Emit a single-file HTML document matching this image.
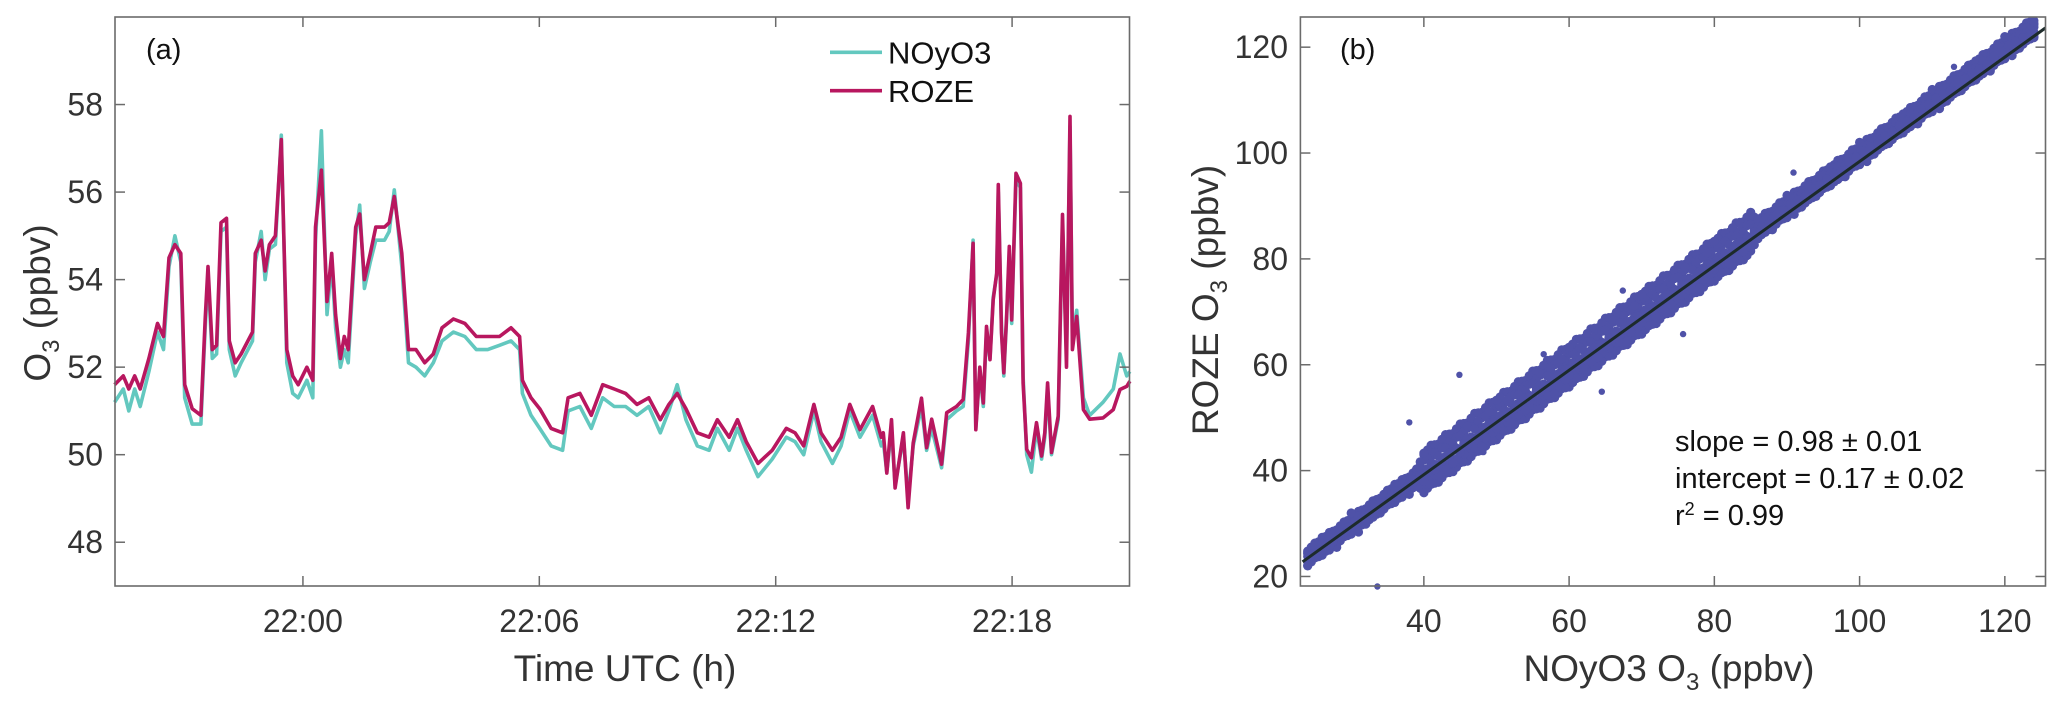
<!DOCTYPE html>
<html><head><meta charset="utf-8"><style>
html,body{margin:0;padding:0;background:#fff;}
svg{display:block;font-family:"Liberation Sans",Arial,sans-serif;}
</style></head><body>
<svg id="fig" width="2067" height="712" viewBox="0 0 2067 712" xmlns="http://www.w3.org/2000/svg">
<g id="pa"></g>
<g id="pb"></g>
</svg>
<script>
// ---------- Panel (a) data: minutes relative to 22:00 ----------
const minutesRoze = [-4.78,-4.56,-4.42,-4.27,-4.13,-3.91,-3.69,-3.54,-3.40,-3.25,-3.10,-3.00,-2.81,-2.59,-2.48,-2.41,-2.30,-2.19,-2.08,-1.94,-1.87,-1.72,-1.57,-1.28,-1.21,-1.06,-0.96,-0.85,-0.70,-0.55,-0.41,-0.26,-0.12,0.10,0.25,0.32,0.47,0.61,0.73,0.83,0.95,1.05,1.15,1.34,1.44,1.56,1.71,1.85,2.07,2.19,2.32,2.51,2.68,2.87,3.09,3.31,3.53,3.82,4.11,4.40,4.69,4.99,5.28,5.50,5.57,5.79,6.01,6.30,6.59,6.73,7.03,7.32,7.61,7.90,8.19,8.48,8.78,9.07,9.29,9.50,9.72,10.01,10.31,10.52,10.82,11.03,11.25,11.55,11.91,12.27,12.49,12.71,12.97,13.15,13.44,13.66,13.88,14.14,14.46,14.68,14.73,14.82,14.94,15.03,15.24,15.36,15.49,15.70,15.83,15.96,16.21,16.34,16.59,16.76,16.89,17.01,17.08,17.18,17.27,17.35,17.44,17.52,17.61,17.65,17.73,17.79,17.86,17.93,17.99,18.10,18.21,18.28,18.37,18.49,18.62,18.75,18.83,18.90,19.00,19.17,19.28,19.38,19.47,19.53,19.64,19.81,19.97,20.31,20.57,20.74,20.91,20.99];
const rozeO3 = [51.6,51.8,51.5,51.8,51.5,52.2,53.0,52.7,54.5,54.8,54.6,51.6,51.05,50.9,53.1,54.3,52.4,52.5,55.3,55.4,52.6,52.1,52.3,52.8,54.6,54.9,54.2,54.8,55.0,57.2,52.4,51.8,51.6,52.0,51.7,55.2,56.5,53.5,54.6,53.2,52.2,52.7,52.4,55.2,55.5,54.0,54.6,55.2,55.2,55.3,55.9,54.6,52.4,52.4,52.1,52.3,52.9,53.1,53.0,52.7,52.7,52.7,52.9,52.7,51.7,51.3,51.05,50.6,50.5,51.3,51.4,50.9,51.6,51.5,51.4,51.15,51.3,50.8,51.15,51.4,51.05,50.5,50.4,50.8,50.4,50.8,50.3,49.8,50.1,50.6,50.5,50.2,51.15,50.5,50.1,50.4,51.15,50.57,51.1,50.4,50.5,49.58,50.8,49.24,50.5,48.79,50.27,51.29,50.16,50.81,49.78,50.96,51.1,51.26,52.78,54.83,50.57,52.0,51.18,52.93,52.17,53.54,54.15,56.17,52.78,51.87,53.16,54.76,53.08,56.43,56.2,51.64,50.12,49.93,50.73,49.97,50.5,51.64,50.05,50.88,55.49,52.0,57.73,52.4,53.16,51.03,50.81,50.84,51.03,51.49,51.56,51.68];
const noyO3 = [51.2,51.5,51.0,51.5,51.1,51.9,52.8,52.4,54.3,55.0,54.4,51.3,50.7,50.7,52.9,54.1,52.2,52.3,55.1,55.2,52.4,51.8,52.1,52.6,54.4,55.1,54.0,54.7,54.8,57.3,52.1,51.4,51.3,51.7,51.3,54.9,57.4,53.2,54.4,52.9,52.0,52.4,52.1,55.0,55.7,53.8,54.4,54.9,54.9,55.1,56.05,54.3,52.1,52.0,51.8,52.1,52.6,52.8,52.7,52.4,52.4,52.5,52.6,52.4,51.4,50.9,50.6,50.2,50.1,51.0,51.1,50.6,51.3,51.1,51.1,50.9,51.1,50.5,51.0,51.6,50.8,50.2,50.1,50.6,50.1,50.6,50.1,49.5,49.9,50.4,50.3,50.0,51.0,50.3,49.8,50.2,51.0,50.4,50.9,50.2,50.3,49.6,50.6,49.3,50.4,49.0,50.2,51.1,50.1,50.6,49.7,50.8,51.0,51.1,52.6,54.9,50.6,51.9,51.1,52.8,52.2,53.6,54.1,56.0,52.9,51.8,53.1,54.6,53.0,56.3,56.1,51.8,50.0,49.6,50.6,49.9,50.4,51.5,50.0,50.8,55.3,52.3,57.5,52.7,53.3,51.3,50.9,51.2,51.5,52.3,51.8,51.9];
const aYTicks = [48,50,52,54,56,58];
const aXTicks = [0,6,12,18];
const aXTickLabels = ["22:00","22:06","22:12","22:18"];

// ---------- Panel (b) data ----------
const scatterX = [24,25,26,27,28,29,30,31,32,33,34,35,36,37,38,39,40,41,42,43,44,45,46,47,48,49,50,51,52,53,54,55,56,57,58,59,60,61,62,63,64,65,66,67,68,69,70,71,72,73,74,75,76,77,78,79,80,81,82,83,84,85,86,87,88,89,90,91,92,93,94,95,96,97,98,99,100,101,102,103,104,105,106,107,108,109,110,111,112,113,114,115,116,117,118,119,120,121,122,123,124];
const rozeA = [24.5,23.8,27.4,25.0,27.9,28.3,32.0,28.4,32.3,31.2,34.5,33.8,37.4,35.0,37.9,38.3,43.3,37.4,42.7,40.6,45.0,43.5,48.4,44.3,48.1,48.2,53.3,47.4,52.7,50.6,55.0,53.5,58.4,54.3,58.1,58.2,63.3,57.4,62.7,60.6,65.0,63.5,68.4,64.3,68.1,68.2,73.3,67.4,72.7,70.6,75.0,73.5,78.4,74.3,78.1,78.2,83.3,77.4,82.7,80.6,85.0,83.5,87.4,85.0,87.9,88.3,92.0,88.4,92.3,91.2,94.5,93.8,97.4,95.0,97.9,98.3,102.0,98.4,102.3,101.2,104.5,103.8,107.4,105.0,107.9,108.3,112.0,108.4,112.3,111.2,114.5,113.8,117.4,115.0,117.9,118.3,122.0,118.4,122.3,121.2,124.5];
const rozeB = [22.1,25.8,25.0,27.4,25.5,30.2,28.5,31.0,29.9,33.7,32.1,35.8,35.0,37.4,35.5,40.2,38.0,41.3,39.1,44.3,41.4,46.5,44.8,47.9,44.5,51.1,48.0,51.3,49.1,54.3,51.4,56.5,54.8,57.9,54.5,61.1,58.0,61.3,59.1,64.3,61.4,66.5,64.8,67.9,64.5,71.1,68.0,71.3,69.1,74.3,71.4,76.5,74.8,77.9,74.5,81.1,78.0,81.3,79.1,84.3,81.4,86.5,85.0,87.4,85.5,90.2,88.5,91.0,89.9,93.7,92.1,95.8,95.0,97.4,95.5,100.2,98.5,101.0,99.9,103.7,102.1,105.8,105.0,107.4,105.5,110.2,108.5,111.0,109.9,113.7,112.1,115.8,115.0,117.4,115.5,120.2,118.5,121.0,119.9,123.7,122.1];
const rozeC = [23.8,24.1,26.1,25.7,27.6,29.0,29.3,31.4,30.9,32.7,33.8,34.1,36.1,35.7,37.6,39.0,39.3,41.4,40.9,42.7,43.8,44.1,46.1,45.7,47.6,49.0,49.3,51.4,50.9,52.7,53.8,54.1,56.1,55.7,57.6,59.0,59.3,61.4,60.9,62.7,63.8,64.1,66.1,65.7,67.6,69.0,69.3,71.4,70.9,72.7,73.8,74.1,76.1,75.7,77.6,79.0,79.3,81.4,80.9,82.7,83.8,84.1,86.1,85.7,87.6,89.0,89.3,91.4,90.9,92.7,93.8,94.1,96.1,95.7,97.6,99.0,99.3,101.4,100.9,102.7,103.8,104.1,106.1,105.7,107.6,109.0,109.3,111.4,110.9,112.7,113.8,114.1,116.1,115.7,117.6,119.0,119.3,121.4,120.9,122.7,123.8];
const rozeD = [24.8,26.3,26.8,28.3,28.8,30.3,30.8,32.3,32.8,34.3,34.8,36.3,36.8,38.3,38.8,40.3,43.0,44.8,45.0,46.8,47.0,48.8,49.0,50.8,51.0,52.8,53.0,54.8,55.0,56.8,57.0,58.8,59.0,60.8,61.0,62.8,63.0,64.8,65.0,66.8,67.0,68.8,69.0,70.8,71.0,72.8,73.0,74.8,75.0,76.8,77.0,78.8,79.0,80.8,81.0,82.8,83.0,84.8,85.0,86.8,87.0,88.8,87.0,88.6,89.0,90.6,91.0,92.6,93.0,94.6,95.0,96.6,97.0,98.6,99.0,100.6,101.0,102.6,103.0,104.6,105.0,106.6,107.0,108.6,109.0,110.6,111.0,112.6,113.0,114.6,115.0,116.6,117.0,118.6,119.0,120.6,121.0,122.6,123.0,124.6,125.0];
const rozeE = [22.0,23.5,24.0,25.5,26.0,27.5,28.0,29.5,30.0,31.5,32.0,33.5,34.0,35.5,36.0,37.5,35.8,37.5,37.8,39.5,39.8,41.5,41.8,43.5,43.8,45.5,45.8,47.5,47.8,49.5,49.8,51.5,51.8,53.5,53.8,55.5,55.8,57.5,57.8,59.5,59.8,61.5,61.8,63.5,63.8,65.5,65.8,67.5,67.8,69.5,69.8,71.5,71.8,73.5,73.8,75.5,75.8,77.5,77.8,79.5,79.8,81.5,83.8,85.3,85.8,87.3,87.8,89.3,89.8,91.3,91.8,93.3,93.8,95.3,95.8,97.3,97.8,99.3,99.8,101.3,101.8,103.3,103.8,105.3,105.8,107.3,107.8,109.3,109.8,111.3,111.8,113.3,113.8,115.3,115.8,117.3,117.8,119.3,119.8,121.3,121.8];
const rozeF = [24.3,25.6,26.3,27.6,28.3,29.6,30.3,31.6,32.3,33.6,34.3,35.6,36.3,37.6,38.3,39.6,42.0,42.6,44.0,44.6,46.0,46.6,48.0,48.6,50.0,50.6,52.0,52.6,54.0,54.6,56.0,56.6,58.0,58.6,60.0,60.6,62.0,62.6,64.0,64.6,66.0,66.6,68.0,68.6,70.0,70.6,72.0,72.6,74.0,74.6,76.0,76.6,78.0,78.6,80.0,80.6,82.0,82.6,84.0,84.6,86.0,86.6,86.3,87.6,88.3,89.6,90.3,91.6,92.3,93.6,94.3,95.6,96.3,97.6,98.3,99.6,100.3,101.6,102.3,103.6,104.3,105.6,106.3,107.6,108.3,109.6,110.3,111.6,112.3,113.6,114.3,115.6,116.3,117.6,118.3,119.6,120.3,121.6,122.3,123.6,124.3];
const rozeG = [22.8,24.2,24.8,26.2,26.8,28.2,28.8,30.2,30.8,32.2,32.8,34.2,34.8,36.2,36.8,38.2,37.4,39.0,39.4,41.0,41.4,43.0,43.4,45.0,45.4,47.0,47.4,49.0,49.4,51.0,51.4,53.0,53.4,55.0,55.4,57.0,57.4,59.0,59.4,61.0,61.4,63.0,63.4,65.0,65.4,67.0,67.4,69.0,69.4,71.0,71.4,73.0,73.4,75.0,75.4,77.0,77.4,79.0,79.4,81.0,81.4,83.0,84.8,86.2,86.8,88.2,88.8,90.2,90.8,92.2,92.8,94.2,94.8,96.2,96.8,98.2,98.8,100.2,100.8,102.2,102.8,104.2,104.8,106.2,106.8,108.2,108.8,110.2,110.8,112.2,112.8,114.2,114.8,116.2,116.8,118.2,118.8,120.2,120.8,122.2,122.8];
const outlierX = [33.6,38.0,44.9,64.5,75.7,90.9,113.0,67.4,56.5,48.2];
const outlierY = [18.1,49.1,58.1,54.9,65.8,96.3,116.3,74.0,62.0,43.5];
const fitSlope = 0.986;
const fitIntercept = -0.2;
const bXTicks = [40,60,80,100,120];
const bYTicks = [20,40,60,80,100,120];

const NS = "http://www.w3.org/2000/svg";
function mk(parent, tag, attrs, text){
  const e = document.createElementNS(NS, tag);
  for (const k in attrs) e.setAttribute(k, attrs[k]);
  if (text !== undefined) e.textContent = text;
  parent.appendChild(e);
  return e;
}
const AX = "#6b6b6b", TX = "#333333";

// ================= Panel A =================
const pa = document.getElementById('pa');
const A = {l:115, r:1129.5, t:17, b:586, xmin:-4.77, xmax:20.98, ymin:47, ymax:60};
const ax = v => A.l + (v - A.xmin) / (A.xmax - A.xmin) * (A.r - A.l);
const ay = v => A.b - (v - A.ymin) / (A.ymax - A.ymin) * (A.b - A.t);

function polyline(parent, xs, ys, color, name){
  let d = "";
  for (let i = 0; i < xs.length; i++) d += (i ? "L" : "M") + ax(xs[i]).toFixed(1) + "," + ay(ys[i]).toFixed(1);
  const p = mk(parent, 'path', {d:d, fill:'none', stroke:color, 'stroke-width':3.6, 'stroke-linejoin':'round'});
  
  
}
polyline(pa, minutesRoze, noyO3, '#63c8bf', 'noyo3-line');
polyline(pa, minutesRoze, rozeO3, '#b8175f', 'roze-line');

const boxA = mk(pa, 'rect', {x:A.l, y:A.t, width:A.r-A.l, height:A.b-A.t, fill:'none', stroke:AX, 'stroke-width':1.6});



aYTicks.forEach(v => {
  const y = ay(v);
  mk(pa, 'line', {x1:A.l, x2:A.l+10, y1:y, y2:y, stroke:AX, 'stroke-width':1.5});
  mk(pa, 'line', {x1:A.r-10, x2:A.r, y1:y, y2:y, stroke:AX, 'stroke-width':1.5});
  const t = mk(pa, 'text', {x:103, y:y+11, 'text-anchor':'end', 'font-size':32, fill:TX}, String(v));
  
  
});
aXTicks.forEach((v, i) => {
  const x = ax(v);
  mk(pa, 'line', {x1:x, x2:x, y1:A.b, y2:A.b-10, stroke:AX, 'stroke-width':1.5});
  mk(pa, 'line', {x1:x, x2:x, y1:A.t, y2:A.t+10, stroke:AX, 'stroke-width':1.5});
  const t = mk(pa, 'text', {x:x, y:632, 'text-anchor':'middle', 'font-size':32, fill:TX}, aXTickLabels[i]);
  
  
});
</script>
<script>
// static labels for panel A
(function(){
  const pa = document.getElementById('pa');
  const NS = "http://www.w3.org/2000/svg";
  function mk(parent, tag, attrs, text){const e=document.createElementNS(NS,tag);for(const k in attrs)e.setAttribute(k,attrs[k]);if(text!==undefined)e.textContent=text;parent.appendChild(e);return e;}
  const xl = mk(pa,'text',{x:625,y:681,'text-anchor':'middle','font-size':37,fill:'#333'},'Time UTC (h)');
   
  const yl = mk(pa,'text',{transform:'translate(50,303) rotate(-90)','text-anchor':'middle','font-size':37,fill:'#333'});
   
  yl.innerHTML = 'O<tspan font-size="24" dy="9">3</tspan><tspan dy="-9"> (ppbv)</tspan>';
  const la = mk(pa,'text',{x:146,y:59,'font-size':29,fill:'#111'},'(a)');
   
  const lg = mk(pa,'g',{});
   
  mk(lg,'line',{x1:830,x2:882,y1:52.3,y2:52.3,stroke:'#63c8bf','stroke-width':3.6});
  const t1 = mk(lg,'text',{x:888,y:63.5,'font-size':31,fill:'#111'},'NOyO3');
   
  mk(lg,'line',{x1:830,x2:882,y1:90.7,y2:90.7,stroke:'#b8175f','stroke-width':3.6});
  const t2 = mk(lg,'text',{x:888,y:102,'font-size':31,fill:'#111'},'ROZE');
   
})();

// ================= Panel B =================
const pb = document.getElementById('pb');
const B = {l:1300.4, r:2045.5, t:17, b:586, xmin:23.0, xmax:125.6, ymin:18.2, ymax:125.7};
const bx = v => B.l + (v - B.xmin) / (B.xmax - B.xmin) * (B.r - B.l);
const by = v => B.b - (v - B.ymin) / (B.ymax - B.ymin) * (B.b - B.t);

const clip = mk(pb, 'clipPath', {id:'clipb'});
mk(clip, 'rect', {x:B.l, y:B.t, width:B.r-B.l, height:B.b-B.t+6});
const pts = mk(pb, 'g', {fill:'#4f52a8', 'clip-path':'url(#clipb)'});


[rozeD, rozeE, rozeF, rozeG, rozeA, rozeB, rozeC].forEach(arr => {
  arr.forEach((yv, i) => {
    const c = mk(pts, 'circle', {cx:bx(scatterX[i]).toFixed(1), cy:by(yv).toFixed(1), r:4.6});
    
    
  });
  for (let i = 0; i < arr.length - 1; i++) {
    const c = mk(pts, 'circle', {cx:bx((scatterX[i]+scatterX[i+1])/2).toFixed(1), cy:by((arr[i]+arr[i+1])/2).toFixed(1), r:4.6});
    
    
  }
});
outlierX.forEach((xv, i) => {
  const c = mk(pts, 'circle', {cx:bx(xv).toFixed(1), cy:by(outlierY[i]).toFixed(1), r:3.2});
  
  
});
const fx0 = B.xmin + 0.3, fx1 = B.xmax;
const fit = mk(pb, 'line', {x1:bx(fx0), y1:by(fitSlope*fx0+fitIntercept), x2:bx(fx1), y2:by(fitSlope*fx1+fitIntercept), stroke:'#1d2b2b', 'stroke-width':3});



const boxB = mk(pb, 'rect', {x:B.l, y:B.t, width:B.r-B.l, height:B.b-B.t, fill:'none', stroke:AX, 'stroke-width':1.6});


bYTicks.forEach(v => {
  const y = by(v);
  mk(pb, 'line', {x1:B.l, x2:B.l+10, y1:y, y2:y, stroke:AX, 'stroke-width':1.5});
  mk(pb, 'line', {x1:B.r-10, x2:B.r, y1:y, y2:y, stroke:AX, 'stroke-width':1.5});
  const t = mk(pb, 'text', {x:1288, y:y+11, 'text-anchor':'end', 'font-size':32, fill:TX}, String(v));
  
  
});
bXTicks.forEach(v => {
  const x = bx(v);
  mk(pb, 'line', {x1:x, x2:x, y1:B.b, y2:B.b-10, stroke:AX, 'stroke-width':1.5});
  mk(pb, 'line', {x1:x, x2:x, y1:B.t, y2:B.t+10, stroke:AX, 'stroke-width':1.5});
  const t = mk(pb, 'text', {x:x, y:632, 'text-anchor':'middle', 'font-size':32, fill:TX}, String(v));
  
  
});
const xlb = mk(pb, 'text', {x:1669, y:681, 'text-anchor':'middle', 'font-size':37, fill:'#333'});


xlb.innerHTML = 'NOyO3 O<tspan font-size="24" dy="9">3</tspan><tspan dy="-9"> (ppbv)</tspan>';
const ylb = mk(pb, 'text', {transform:'translate(1218,300) rotate(-90)', 'text-anchor':'middle', 'font-size':37, fill:'#333'});


ylb.innerHTML = 'ROZE O<tspan font-size="24" dy="9">3</tspan><tspan dy="-9"> (ppbv)</tspan>';
const lb = mk(pb, 'text', {x:1340, y:59, 'font-size':29, fill:'#111'}, '(b)');


const s1 = mk(pb, 'text', {x:1675, y:451, 'font-size':29, fill:'#111'}, 'slope = 0.98 ± 0.01');


const s2 = mk(pb, 'text', {x:1675, y:488, 'font-size':29, fill:'#111'}, 'intercept = 0.17 ± 0.02');


const s3 = mk(pb, 'text', {x:1675, y:525, 'font-size':29, fill:'#111'});


s3.innerHTML = 'r<tspan font-size="18" dy="-10">2</tspan><tspan dy="10"> = 0.99</tspan>';
</script>
</body></html>
